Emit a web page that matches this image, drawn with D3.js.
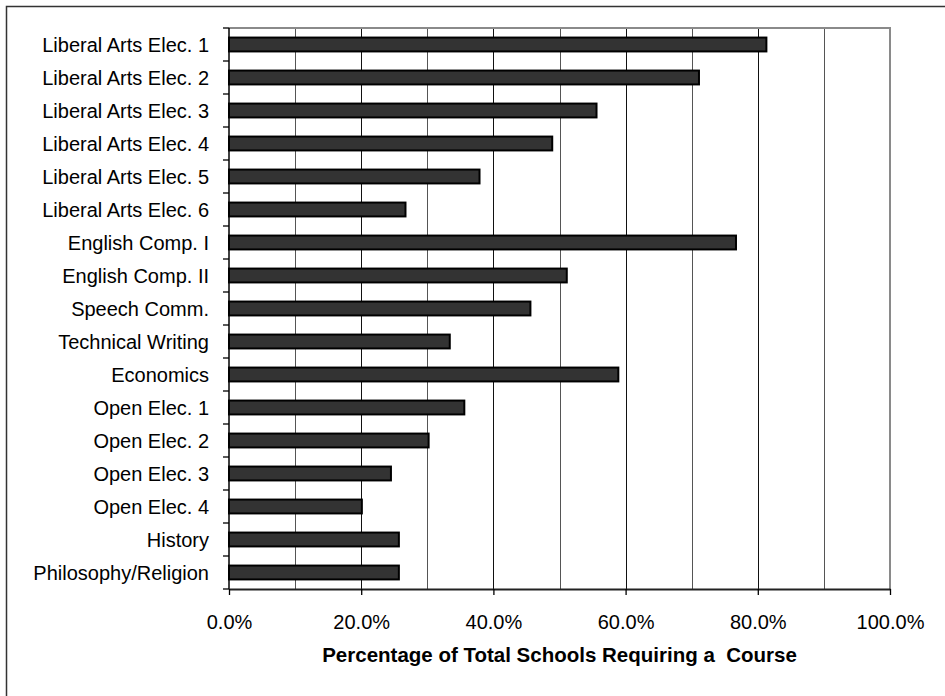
<!DOCTYPE html>
<html>
<head>
<meta charset="utf-8">
<script src="https://cdn.jsdelivr.net/npm/d3@7"></script>
<style>
  html, body { margin: 0; padding: 0; background: #fff; }
  svg { display: block; }
  text { font-family: Arial, "Liberation Sans", sans-serif; fill: #000; }
</style>
</head>
<body>
<svg id="chart" width="945" height="696"></svg>
<script>
const categories = [
  "Liberal Arts Elec. 1", "Liberal Arts Elec. 2", "Liberal Arts Elec. 3",
  "Liberal Arts Elec. 4", "Liberal Arts Elec. 5", "Liberal Arts Elec. 6",
  "English Comp. I", "English Comp. II", "Speech Comm.", "Technical Writing",
  "Economics", "Open Elec. 1", "Open Elec. 2", "Open Elec. 3", "Open Elec. 4",
  "History", "Philosophy/Religion"
];
const values = [
  0.813, 0.711, 0.556, 0.489, 0.379, 0.267,
  0.767, 0.511, 0.456, 0.334,
  0.589, 0.356, 0.302, 0.245, 0.201,
  0.257, 0.257
];
const xTickValues = [0, 0.2, 0.4, 0.6, 0.8, 1.0];
const gridValues = [0.1, 0.2, 0.3, 0.4, 0.5, 0.6, 0.7, 0.8, 0.9];
const xTitle = "Percentage of Total Schools Requiring a\u00A0 Course";

const svg = d3.select("#chart");
const W = 945, H = 696;
const plot = { left: 229, right: 890, top: 28, bottom: 589 };

// outer chart border (extends beyond the right/bottom edge)
svg.append("rect")
  .attr("x", 6.5).attr("y", 6.5)
  .attr("width", W + 20).attr("height", H + 20)
  .attr("fill", "none").attr("stroke", "#333").attr("stroke-width", 1.5);

const x = d3.scaleLinear().domain([0, 1]).range([plot.left, plot.right]);
const y = d3.scaleBand().domain(categories)
  .range([plot.top, plot.bottom])
  .paddingInner(0.58).paddingOuter(0.29);

// gridlines
svg.append("g").selectAll("line").data(gridValues).join("line")
  .attr("x1", d => Math.round(x(d)) + 0.5).attr("x2", d => Math.round(x(d)) + 0.5)
  .attr("y1", plot.top).attr("y2", plot.bottom)
  .attr("stroke", (d, i) => i % 2 === 1 ? "#111" : "#555")
  .attr("stroke-width", 1);

// plot area border (top/right grey)
svg.append("path")
  .attr("d", `M${plot.left},${plot.top}H${plot.right}V${plot.bottom}`)
  .attr("fill", "none").attr("stroke", "#8a8a8a").attr("stroke-width", 2);

// bars
svg.append("g").selectAll("rect").data(values).join("rect")
  .attr("x", x(0))
  .attr("y", (d, i) => y(categories[i]))
  .attr("width", d => x(d) - x(0))
  .attr("height", y.bandwidth())
  .attr("fill", "#333333")
  .attr("stroke", "#000")
  .attr("stroke-width", 2);

// y axis line and ticks at category boundaries
const step = y.step();
const yTickPos = d3.range(categories.length + 1).map(i => plot.top + i * step);
svg.append("line")
  .attr("x1", plot.left).attr("x2", plot.left)
  .attr("y1", plot.top).attr("y2", plot.bottom)
  .attr("stroke", "#000").attr("stroke-width", 1.5);
svg.append("g").selectAll("line").data(yTickPos).join("line")
  .attr("x1", plot.left - 6).attr("x2", plot.left)
  .attr("y1", d => d).attr("y2", d => d)
  .attr("stroke", "#000").attr("stroke-width", 1.3);

// category labels
svg.append("g").selectAll("text").data(categories).join("text")
  .attr("x", 209)
  .attr("y", d => y(d) + y.bandwidth() / 2)
  .attr("dy", "0.36em")
  .attr("text-anchor", "end")
  .attr("font-size", "20px")
  .text(d => d);

// x axis
const xAxis = d3.axisBottom(x)
  .tickValues(xTickValues)
  .tickFormat(d3.format(".1%"))
  .tickSize(6).tickSizeOuter(0).tickPadding(20);
const gx = svg.append("g")
  .attr("transform", `translate(0,${plot.bottom})`)
  .call(xAxis);
gx.select(".domain").attr("stroke", "#222").attr("stroke-width", 2);
gx.selectAll(".tick line").attr("stroke", "#000").attr("stroke-width", 1.3);
gx.selectAll(".tick text")
  .attr("font-size", "20px")
  .attr("font-family", "Arial, 'Liberation Sans', sans-serif")
  .attr("fill", "#000");

// x title
svg.append("text")
  .attr("x", (plot.left + plot.right) / 2)
  .attr("y", 662)
  .attr("text-anchor", "middle")
  .attr("font-size", "20.5px")
  .attr("font-weight", "bold")
  .text(xTitle);
</script>
</body>
</html>
